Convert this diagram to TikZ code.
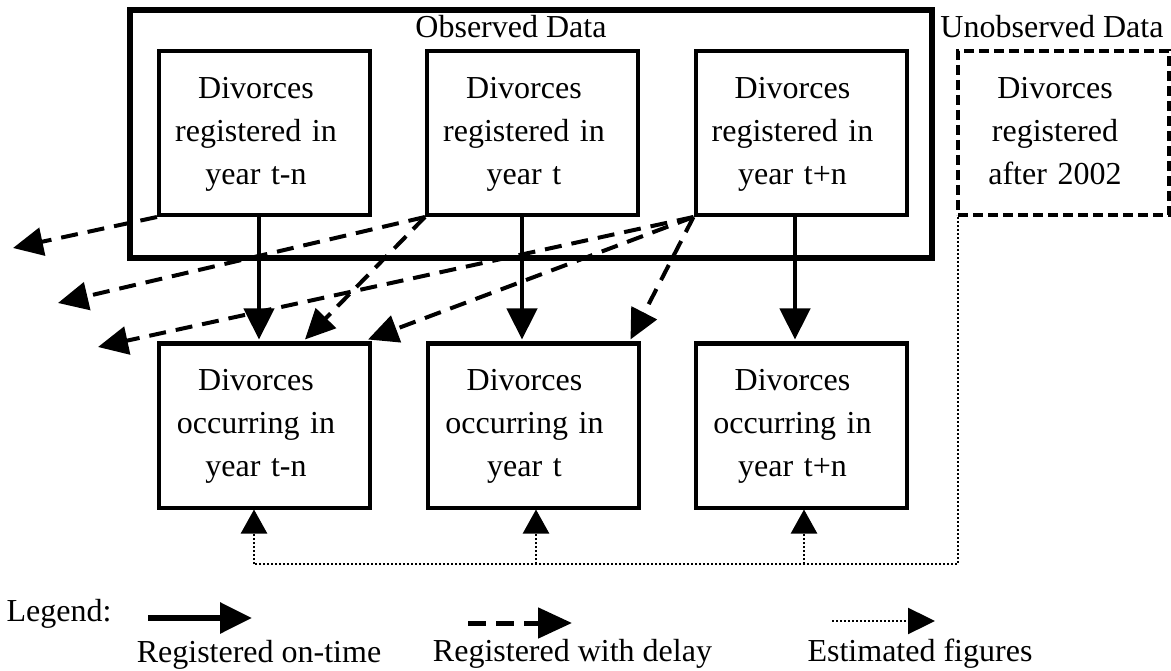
\documentclass[tikz,border=0pt]{standalone}
\usepackage{fontspec}
\setmainfont{Liberation Serif}
\usetikzlibrary{arrows.meta}
\begin{document}
\begin{tikzpicture}[x=1pt,y=-1pt,
  every node/.style={font=\fontsize{32}{43}\selectfont},
  box/.style={draw, line width=4pt, minimum width=211pt, minimum height=164pt, inner sep=0pt},
  boxtext/.style={inner sep=0pt, text width=211pt, align=center},
  unobsbox/.style={box, dash pattern=on 10pt off 5pt},
  outerbox/.style={draw, line width=6.5pt, minimum width=802pt, minimum height=248pt, inner sep=0pt},
  ontime/.style={line width=4.5pt, -{Triangle[length=31pt,width=30pt]}},
  delay/.style={line width=4pt, dash pattern=on 17pt off 10pt, -{Triangle[length=30pt,width=28pt]}},
  estimline/.style={line width=2.4pt, dash pattern=on 2pt off 2pt},
  estim/.style={estimline, -{Triangle[length=24pt,width=26pt]}}
]
\useasboundingbox (0,0) rectangle (1171,671);

% containers and labels
\node[outerbox] (obs) at (531,134) {};
\node[anchor=base] (obslbl) at (511,38) {Observed Data};
\node[anchor=base] (unobslbl) at (1052,38) {Unobserved Data};

% top boxes
\node[box] (t1) at (264.5,133) {};
\node[box] (t2) at (532.5,133) {};
\node[box] (t3) at (801,133) {};
\node[unobsbox] (u) at (1063.5,133) {};
\node[boxtext] (t1txt) at ([xshift=-8.5pt,yshift=-1pt]t1.center) {Divorces\\registered in\\year t-n};
\node[boxtext] (t2txt) at ([xshift=-8.5pt,yshift=-1pt]t2.center) {Divorces\\registered in\\year t};
\node[boxtext] (t3txt) at ([xshift=-8.5pt,yshift=-1pt]t3.center) {Divorces\\registered in\\year t+n};
\node[boxtext] (utxt) at ([xshift=-8.5pt,yshift=-1pt]u.center) {Divorces\\registered\\after 2002\vphantom{y}};

% bottom boxes
\node[box] (b1) at (264.5,425.5) {};
\node[box] (b2) at (533,425.5) {};
\node[box] (b3) at (801,425.5) {};
\node[boxtext] (b1txt) at ([xshift=-8.5pt,yshift=-1pt]b1.center) {Divorces\\occurring in\\year t-n};
\node[boxtext] (b2txt) at ([xshift=-8.5pt,yshift=-1pt]b2.center) {Divorces\\occurring in\\year t};
\node[boxtext] (b3txt) at ([xshift=-8.5pt,yshift=-1pt]b3.center) {Divorces\\occurring in\\year t+n};

% on-time arrows
\draw[ontime] ([xshift=-5.5pt]t1.south) -- ([xshift=-5.5pt,yshift=2pt]b1.north);
\draw[ontime] ([xshift=-10.5pt]t2.south) -- ([xshift=-11pt,yshift=2pt]b2.north);
\draw[ontime] ([xshift=-6pt]t3.south) -- ([xshift=-6pt,yshift=2pt]b3.north);

% delayed arrows
\coordinate (d1) at (13,248);
\coordinate (d2) at (58,303);
\coordinate (d3) at (98,347);
\draw[delay] (t1.south west) -- (d1);
\draw[delay] (t2.south west) -- (d2);
\draw[delay] (t2.south west) -- ([xshift=-67pt,yshift=2pt]b1.north east);
\draw[delay] (t3.south west) -- (d3);
\draw[delay] (t3.south west) -- ([xshift=-4pt,yshift=2pt]b1.north east);
\draw[delay] (t3.south west) -- ([xshift=-10pt,yshift=2pt]b2.north east);

% estimated figures
\coordinate (corner) at (958,564);
\coordinate (e1) at (254,564);
\coordinate (e2) at (536,564);
\coordinate (e3) at (804,564);
\draw[estimline] ([xshift=2pt]u.south west) -- (corner) -- (e1);
\draw[estim] (e1) -- ([xshift=-10.5pt]b1.south);
\draw[estim] (e2) -- ([xshift=3pt]b2.south);
\draw[estim] (e3) -- ([xshift=3pt]b3.south);

% legend
\node[anchor=base west] (leg) at (3,621) {Legend:};
\coordinate (l1s) at (148,618);
\coordinate (l1e) at (252,618);
\coordinate (l2s) at (468,623);
\coordinate (l2e) at (572,623);
\coordinate (l3s) at (832,621);
\coordinate (l3e) at (935,621);
\draw[line width=6pt, -{Triangle[length=32pt,width=30pt]}] (l1s) -- (l1e);
\draw[line width=5pt, dash pattern=on 18pt off 10pt, -{Triangle[length=34pt,width=30pt]}] (l2s) -- (l2e);
\draw[estimline, -{Triangle[length=27pt,width=26pt]}] (l3s) -- (l3e);
\node[anchor=base] (lt1) at (259,662) {Registered on-time};
\node[anchor=base] (lt2) at (572.5,661) {Registered with delay};
\node[anchor=base] (lt3) at (920,661) {Estimated figures};
\end{tikzpicture}
\end{document}
